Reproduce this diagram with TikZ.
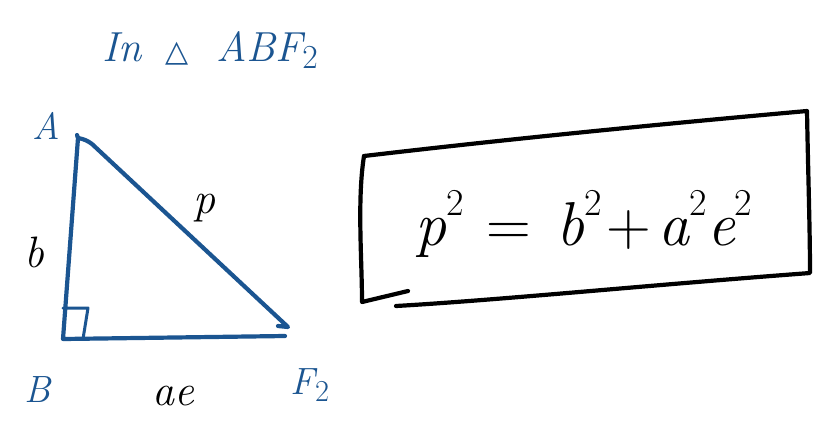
\documentclass[tikz,border=0pt]{standalone}
\usepackage{fontspec}
\newfontfamily\symfont{DejaVu Sans}
\definecolor{ink}{HTML}{1B5591}
\newcommand{\lowsub}[1]{\raisebox{-0.4ex}{\fontsize{0.8em}{1em}\selectfont\upshape #1}}
\newcommand{\highsup}[1]{\raisebox{1.1ex}{\fontsize{38}{42}\selectfont\upshape #1}}
\tikzset{
  pen/.style={line width=4.2pt, line cap=round, line join=round},
  bluepen/.style={pen, draw=ink},
  blackpen/.style={pen, draw=black},
  bluelbl/.style={text=ink, font=\fontsize{38}{44}\selectfont\itshape, inner sep=0pt},
  blacklbl/.style={text=black, font=\fontsize{44}{50}\selectfont\itshape, inner sep=0pt},
}
\begin{document}
\begin{tikzpicture}[x=1pt,y=-1pt]
\useasboundingbox[fill=white] (0,0) rectangle (826,424);
% vertices
\coordinate (A) at (78,138);
\coordinate (B) at (63,339);
\coordinate (F) at (288,327);
\coordinate (Fb) at (285,336);
\coordinate (sq1) at (63,308);
\coordinate (sq2) at (88,308);
\coordinate (sq3) at (83,339);
% triangle
\draw[bluepen] (77,135) -- (A) -- (B) -- (Fb);
\draw[bluepen] (A) .. controls (84,139) and (88,141) .. (92,144) -- (F) -- (278,326);
\draw[bluepen, line width=3pt] (sq1) -- (sq2) -- (sq3);
% labels
\node[bluelbl] (tA) at (46,126) {A};
\node[bluelbl] (tB) at (38,390) {B};
\node[bluelbl] (tF) at (310,385) {F\lowsub{2}};
\node[blacklbl] (tb) at (34,252) {b};
\node[blacklbl] (tp) at (204,208) {p};
\node[blacklbl] (tae) at (173,396) {ae};
% title
\node[bluelbl, font=\fontsize{42}{48}\selectfont\itshape, anchor=west] (title) at (102,50) {In\hspace{24pt}{\symfont\fontsize{30}{34}\selectfont △}\hspace{28pt}ABF\lowsub{2}};
% box
\coordinate (b1) at (364,156);
\coordinate (b2) at (807,111);
\coordinate (b3) at (810,273);
\coordinate (b4) at (362,302);
\draw[blackpen] (b1) .. controls (500,140) and (650,125) .. (b2)
  .. controls (808,170) and (810,230) .. (b3)
  .. controls (650,285) and (500,300) .. (396,306);
\draw[blackpen] (b1) .. controls (357,200) and (362,260) .. (b4) -- (408,291);
\node[blacklbl, font=\fontsize{62}{68}\selectfont\itshape] (eq) at (584,224)
  {p\highsup{2}\hspace{22pt}{\upshape =}\hspace{26pt}b\highsup{2}\hspace{4pt}{\upshape +}\hspace{8pt}a\highsup{2}e\highsup{2}};
\end{tikzpicture}
\end{document}
